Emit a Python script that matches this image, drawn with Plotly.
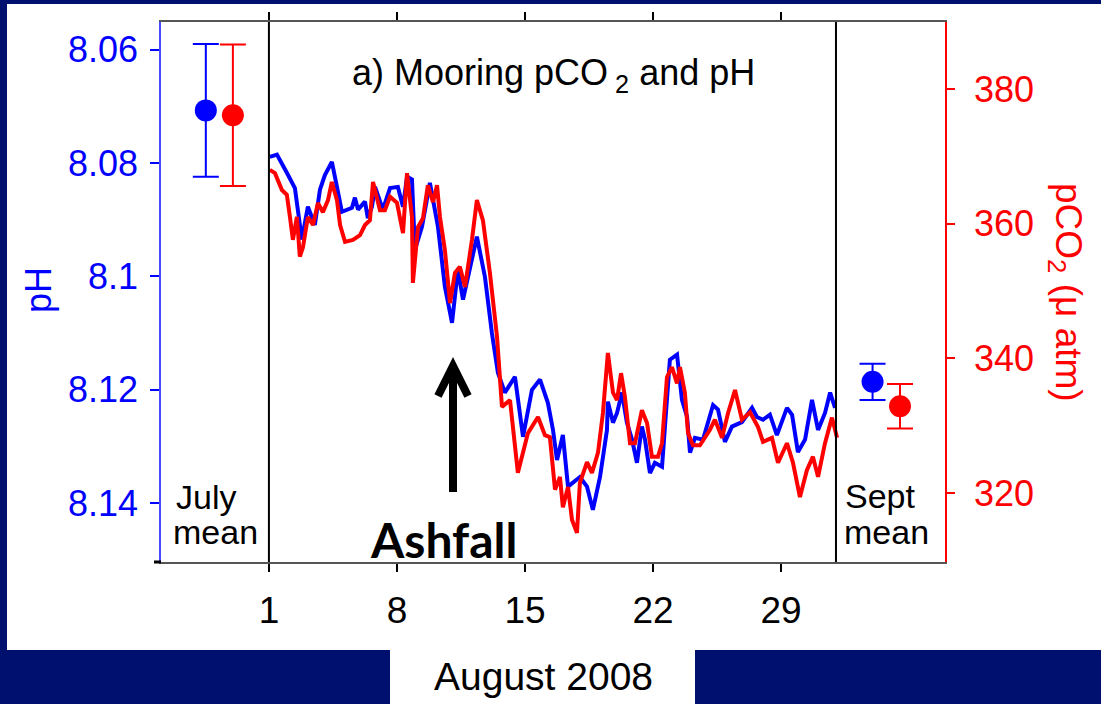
import plotly.graph_objects as go

# ---------------- data ----------------
ph_day = [1.05, 1.44, 1.98, 2.42, 2.80, 3.13, 3.51, 3.79, 4.06, 4.44, 4.72, 4.99, 5.54, 5.70,
          5.87, 6.25, 6.41, 6.63, 6.80, 7.23, 7.62, 8.05, 8.33, 8.55, 8.82, 8.98, 9.37, 9.80,
          10.24, 10.62, 11.01, 11.33, 11.61, 11.99, 12.37, 12.81, 13.19, 13.52, 13.90, 14.45,
          14.89, 15.38, 15.82, 16.25, 16.53, 16.75, 17.07, 17.35, 18.00, 18.39, 18.71, 19.10,
          19.48, 19.53, 19.81, 20.03, 20.30, 20.57, 20.85, 21.12, 21.39, 21.56, 21.83, 22.10,
          22.49, 22.65, 22.92, 23.31, 23.58, 23.86, 24.02, 24.29, 24.73, 25.28, 25.55, 25.93,
          26.31, 26.86, 27.41, 27.68, 28.01, 28.39, 28.77, 29.32, 29.60, 29.92, 30.31, 30.69,
          31.02, 31.40, 31.68, 31.95]
ph = [8.0789, 8.0785, 8.0817, 8.0844, 8.0935, 8.0877, 8.0909, 8.0847, 8.0821, 8.0798, 8.0842,
      8.0886, 8.0879, 8.0861, 8.0882, 8.0868, 8.0897, 8.0877, 8.0842, 8.0882, 8.0844, 8.0842,
      8.0877, 8.0824, 8.0829, 8.0953, 8.0912, 8.0835, 8.0912, 8.1018, 8.1082, 8.0988, 8.1041,
      8.0983, 8.0930, 8.1001, 8.1100, 8.1170, 8.1205, 8.1177, 8.1283, 8.1200, 8.1182, 8.1223,
      8.1271, 8.1324, 8.1280, 8.1371, 8.1354, 8.1371, 8.1412, 8.1354, 8.1271, 8.1221, 8.1258,
      8.1241, 8.1205, 8.1258, 8.1288, 8.1329, 8.1265, 8.1288, 8.1347, 8.1329, 8.1336, 8.1265,
      8.1147, 8.1138, 8.1218, 8.1248, 8.1311, 8.1285, 8.1288, 8.1227, 8.1235, 8.1292, 8.1265,
      8.1257, 8.1232, 8.1248, 8.1253, 8.1244, 8.1280, 8.1232, 8.1244, 8.1310, 8.1288, 8.1218,
      8.1271, 8.1241, 8.1205, 8.1232]

pco2_day = [1.05, 1.33, 1.71, 1.98, 2.15, 2.31, 2.53, 2.69, 2.86, 3.13, 3.41, 3.68, 3.95, 4.23,
            4.44, 4.72, 4.89, 5.16, 5.59, 5.98, 6.25, 6.52, 6.69, 7.07, 7.34, 7.62, 8.00, 8.16,
            8.33, 8.55, 8.82, 8.87, 9.15, 9.42, 9.69, 9.97, 10.19, 10.35, 10.62, 10.90, 11.17,
            11.44, 11.72, 12.10, 12.37, 12.70, 13.08, 13.47, 13.74, 14.18, 14.61, 15.16, 15.71,
            16.09, 16.36, 16.64, 16.91, 17.07, 17.35, 17.57, 17.84, 18.00, 18.39, 18.66, 18.99,
            19.26, 19.53, 19.81, 20.03, 20.25, 20.46, 20.74, 21.01, 21.39, 21.67, 21.94, 22.27,
            22.49, 22.76, 23.03, 23.31, 23.47, 23.74, 23.91, 24.18, 24.56, 25.11, 25.38, 25.77,
            26.10, 26.48, 26.86, 27.30, 27.74, 28.01, 28.50, 28.83, 29.32, 29.65, 30.03, 30.41,
            30.74, 31.02, 31.40, 31.78, 32.06]
pco2 = [368.0, 367.5, 365.0, 364.3, 361.0, 357.6, 361.0, 355.1, 356.5, 361.0, 359.8, 363.1,
        361.7, 363.5, 366.2, 363.5, 359.8, 357.3, 357.6, 358.3, 359.8, 360.5, 366.2, 362.0,
        362.0, 364.0, 363.1, 360.8, 358.6, 367.5, 361.0, 351.2, 359.5, 360.8, 365.7, 363.2,
        365.7, 361.0, 356.1, 348.2, 352.7, 353.6, 350.6, 357.6, 363.5, 360.5, 352.7, 343.2,
        332.8, 333.8, 323.0, 328.9, 331.3, 328.6, 328.3, 320.5, 322.4, 317.9, 320.9, 316.0,
        314.1, 321.5, 324.6, 323.0, 326.0, 331.9, 340.8, 334.9, 333.8, 337.8, 334.3, 327.4,
        327.4, 332.3, 330.4, 325.4, 325.4, 327.4, 337.2, 338.7, 336.3, 338.7, 334.9, 328.9,
        327.1, 327.1, 329.4, 330.9, 328.2, 331.9, 335.3, 330.9, 332.0, 329.8, 327.6, 328.2,
        324.5, 327.4, 324.5, 319.4, 323.4, 325.4, 322.4, 327.4, 331.2, 328.2]

# monthly means with error bars
july_ph, july_ph_err = 8.0707, 0.0117
july_pco2, july_pco2_err = 376.1, 10.5
sept_ph, sept_ph_err = 8.1186, 0.0032
sept_pco2, sept_pco2_err = 332.9, 3.3
july_ph_x, july_pco2_x = -2.45, -0.97
sept_ph_x, sept_pco2_x = 34.0, 35.5

x_ticks = [1, 8, 15, 22, 29]
ph_ticks = [8.06, 8.08, 8.1, 8.12, 8.14]
ph_ticktext = ["8.06", "8.08", "8.1", "8.12", "8.14"]
pco2_ticks = [320, 340, 360, 380]
month_start, month_end = 1, 32

# ---------------- styling ----------------
W, H = 1101, 704
L, R, T, B = 161, 945, 22, 562
NAVY = "#00106E"
BLUE = "#0000FF"
RED = "#FF0000"
FONT = "Liberation Sans, Arial, sans-serif"


def px(x):
    return (x - L) / (R - L)


def py(y):
    return (B - y) / (B - T)


fig = go.Figure()

fig.add_trace(go.Scatter(x=ph_day, y=ph, mode="lines", line=dict(color=BLUE, width=4),
                         yaxis="y", showlegend=False))
fig.add_trace(go.Scatter(x=[july_ph_x, sept_ph_x], y=[july_ph, sept_ph], mode="markers",
                         marker=dict(color=BLUE, size=22),
                         error_y=dict(type="data", array=[july_ph_err, sept_ph_err],
                                      color=BLUE, thickness=2, width=13),
                         yaxis="y", showlegend=False))
fig.add_trace(go.Scatter(x=pco2_day, y=pco2, mode="lines", line=dict(color=RED, width=4),
                         yaxis="y2", showlegend=False))
fig.add_trace(go.Scatter(x=[july_pco2_x, sept_pco2_x], y=[july_pco2, sept_pco2], mode="markers",
                         marker=dict(color=RED, size=22),
                         error_y=dict(type="data", array=[july_pco2_err, sept_pco2_err],
                                      color=RED, thickness=2, width=13),
                         yaxis="y2", showlegend=False))

shapes = [
    # white slide panel and white box under the x-axis title
    dict(type="rect", xref="paper", yref="paper", x0=px(7), x1=px(1101), y0=py(650), y1=py(4),
         fillcolor="white", line=dict(width=0), layer="below"),
    dict(type="rect", xref="paper", yref="paper", x0=px(390), x1=px(695), y0=py(704), y1=py(650),
         fillcolor="white", line=dict(width=0), layer="below"),
    # short extension of the bottom axis line to the left
    dict(type="line", xref="paper", yref="paper", x0=px(154), x1=px(161), y0=0, y1=0,
         line=dict(color="black", width=3)),
    # month separators
    dict(type="line", xref="x", yref="paper", x0=month_start, x1=month_start, y0=0, y1=1,
         line=dict(color="black", width=2)),
    dict(type="line", xref="x", yref="paper", x0=month_end, x1=month_end, y0=0, y1=1,
         line=dict(color="black", width=2)),
    # Ashfall arrow
    dict(type="line", xref="paper", yref="paper", x0=px(453), x1=px(453), y0=py(492), y1=py(366),
         line=dict(color="black", width=8)),
    dict(type="path", xref="paper", yref="paper",
         path=f"M {px(438)},{py(396)} L {px(453)},{py(366)} L {px(468)},{py(396)}",
         line=dict(color="black", width=8)),
]


def label(text, x, y, size, color="black", family=FONT, xanchor="center", angle=0):
    return dict(text=text, x=px(x), y=py(y), xref="paper", yref="paper",
                xanchor=xanchor, yanchor="middle", textangle=angle, showarrow=False,
                font=dict(family=family, size=size, color=color))


annotations = [
    label("a) Mooring pCO<sub> 2</sub> and pH", 553, 75, 36),
    label("July", 174, 497, 34, xanchor="left"),
    label("mean", 171, 532, 34, xanchor="left"),
    label("Sept", 843, 496, 34, xanchor="left"),
    label("mean", 842, 532, 34, xanchor="left"),
    label("<b>Ashfall</b>", 443, 539, 48, family="Lato, Open Sans, sans-serif"),
    label("pH", 38, 290, 36, color=BLUE, angle=-90),
    label("pCO<sub>2</sub> (μ atm)", 1066, 292, 37, color=RED, angle=90),
    label("August 2008", 543, 676, 39),
]

fig.update_layout(
    width=W, height=H,
    margin=dict(l=L, r=W - R, t=T, b=H - B, pad=0),
    paper_bgcolor=NAVY, plot_bgcolor="white",
    shapes=shapes, annotations=annotations,
    xaxis=dict(range=[-4.9, 37.96], tickvals=x_ticks, ticks="outside", ticklen=8,
               tickwidth=1.5, tickcolor="black", showline=True, linecolor="#555555",
               linewidth=1.5, mirror="ticks", showgrid=False, zeroline=False,
               tickfont=dict(family=FONT, size=37, color="black"), ticklabelstandoff=7),
    yaxis=dict(range=[8.1504, 8.0551], tickvals=ph_ticks, ticktext=ph_ticktext,
               ticks="outside", ticklen=9, tickwidth=1.5, tickcolor=BLUE, showline=True,
               linecolor="#4A4AFF", linewidth=1.5, showgrid=False, zeroline=False,
               tickfont=dict(family=FONT, size=36, color=BLUE), ticklabelstandoff=5),
    yaxis2=dict(range=[309.76, 389.95], tickvals=pco2_ticks, overlaying="y", side="right",
                ticks="outside", ticklen=8, tickwidth=1.5, tickcolor=RED, showline=True,
                linecolor=RED, linewidth=1.5, showgrid=False, zeroline=False,
                tickfont=dict(family=FONT, size=36, color=RED), ticklabelstandoff=12),
)

fig.write_html("out.html")
